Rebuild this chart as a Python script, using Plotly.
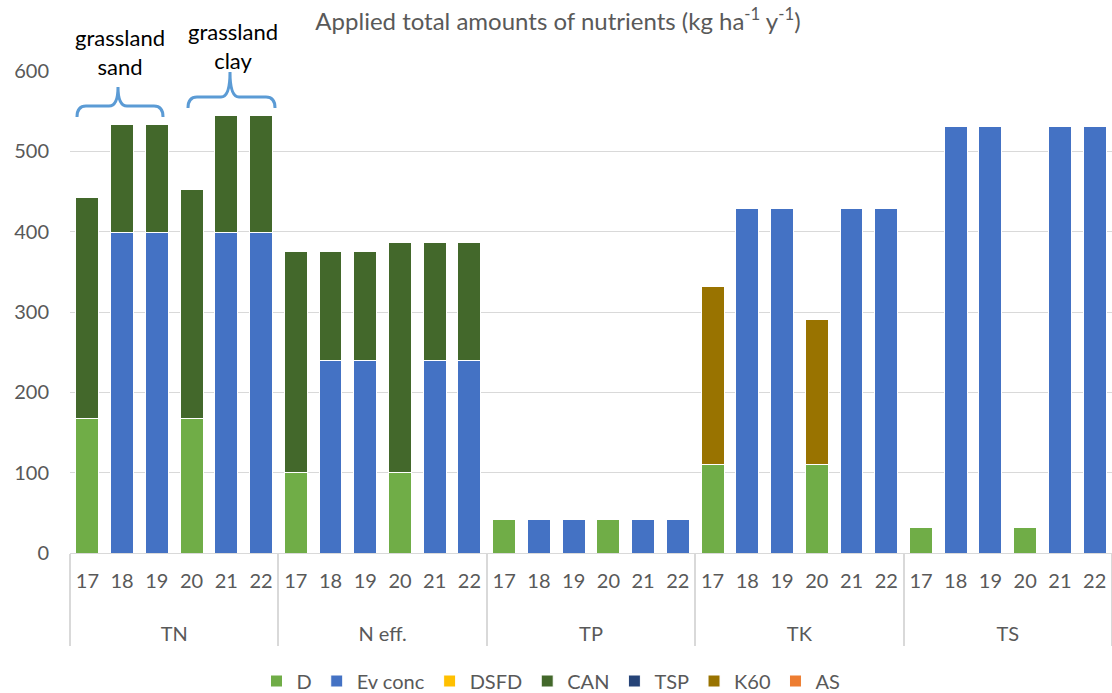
import plotly.graph_objects as go

# ---------------- data ----------------
groups = ["TN", "N eff.", "TP", "TK", "TS"]
years = ["17", "18", "19", "20", "21", "22"]

series_names = ["D", "Ev conc", "DSFD", "CAN", "TSP", "K60", "AS"]
series_colors = ["#70AD47", "#4472C4", "#FFC000", "#43682B", "#264478", "#997300", "#ED7D31"]

N = None
D_vals = [168, N, N, 168, N, N,
          100, N, N, 100, N, N,
          42, N, N, 42, N, N,
          110, N, N, 110, N, N,
          32, N, N, 32, N, N]
Ev_vals = [N, 399, 399, N, 399, 399,
           N, 240, 240, N, 240, 240,
           N, 42, 42, N, 42, 42,
           N, 429, 429, N, 429, 429,
           N, 531, 531, N, 531, 531]
DSFD_vals = [N] * 30
CAN_vals = [274, 135, 135, 285, 145, 145,
            275, 135, 135, 286, 146, 146,
            N, N, N, N, N, N,
            N, N, N, N, N, N,
            N, N, N, N, N, N]
TSP_vals = [N] * 30
K60_vals = [N, N, N, N, N, N,
            N, N, N, N, N, N,
            N, N, N, N, N, N,
            222, N, N, 181, N, N,
            N, N, N, N, N, N]
AS_vals = [N] * 30

title_text = "Applied total amounts of nutrients (kg ha<sup>-1</sup> y<sup>-1</sup>)"
y_ticks = [0, 100, 200, 300, 400, 500, 600]

# ---------------- figure ----------------
x_outer = ["<br><span style='baseline-shift:-11px'>" + g + "</span>" for g in groups for _ in years]
x_inner = [y for _ in groups for y in years]

all_vals = [D_vals, Ev_vals, DSFD_vals, CAN_vals, TSP_vals, K60_vals, AS_vals]

fig = go.Figure()
for name, col, vals in zip(series_names, series_colors, all_vals):
    fig.add_trace(go.Bar(
        x=[x_outer, x_inner], y=vals, name=name,
        marker=dict(color=col, line=dict(color="white", width=1)),
    ))

W, H = 1112, 693
L, R, T, B = 70, 0, 71, 140
PW, PH = W - L - R, H - T - B
FONT = "Lato, 'Open Sans', sans-serif"


def px(xp):
    return (xp - L) / PW


def py(yp):
    return (H - B - yp) / PH


def brace(x0, x1, xm, ytop, yline, yend):
    r = 9
    pts = (f"M {px(x0)},{py(yend)} Q {px(x0)},{py(yline)} {px(x0 + r)},{py(yline)} "
           f"L {px(xm - r)},{py(yline)} Q {px(xm)},{py(yline)} {px(xm)},{py(ytop)} "
           f"Q {px(xm)},{py(yline)} {px(xm + r)},{py(yline)} "
           f"L {px(x1 - r)},{py(yline)} Q {px(x1)},{py(yline)} {px(x1)},{py(yend)}")
    return dict(type="path", xref="paper", yref="paper", path=pts,
                line=dict(color="#5B9BD5", width=3))


fig.update_layout(
    width=W, height=H,
    margin=dict(l=L, r=R, t=T, b=B),
    paper_bgcolor="white", plot_bgcolor="white",
    barmode="stack", bargap=0.34,
    font=dict(family=FONT, color="#595959", size=20),
    title=dict(text=title_text, x=558 / W, xanchor="center", xref="container",
               y=1 - 22 / H, yanchor="middle", yref="container",
               font=dict(size=24, color="#595959", family=FONT)),
    legend=dict(orientation="h", x=551 / W, xref="container", xanchor="center",
                y=1 - 681 / H, yref="container", yanchor="middle",
                font=dict(size=20, color="#595959"), traceorder="normal",
                itemwidth=30),
    xaxis=dict(type="multicategory", showgrid=False, showline=True, linecolor="#D9D9D9",
               linewidth=1, tickfont=dict(size=20, color="#595959"),
               showdividers=True, dividercolor="#D9D9D9", dividerwidth=2,
               ticks="", ticklabelstandoff=10,
               range=[-0.5, 29.5]),
    yaxis=dict(range=[0, 600], tickvals=y_ticks, showgrid=True, gridcolor="#D9D9D9",
               gridwidth=1, zeroline=False, showline=False,
               tickfont=dict(size=20, color="#595959"), ticklabelstandoff=20),
    shapes=[brace(77, 163, 118, 87, 106, 117), brace(188, 275, 230, 72, 97, 108)],
    annotations=[
        dict(text="grassland<br>sand", xref="paper", yref="paper", x=px(120), y=py(52),
             showarrow=False, font=dict(size=22, color="#000000", family=FONT),
             xanchor="center", yanchor="middle"),
        dict(text="grassland<br>clay", xref="paper", yref="paper", x=px(233), y=py(46),
             showarrow=False, font=dict(size=22, color="#000000", family=FONT),
             xanchor="center", yanchor="middle"),
    ],
)

fig.write_html("out.html",
               config={"displayModeBar": False},
               post_script="document.body.style.margin='0px';document.body.style.overflow='hidden';")
